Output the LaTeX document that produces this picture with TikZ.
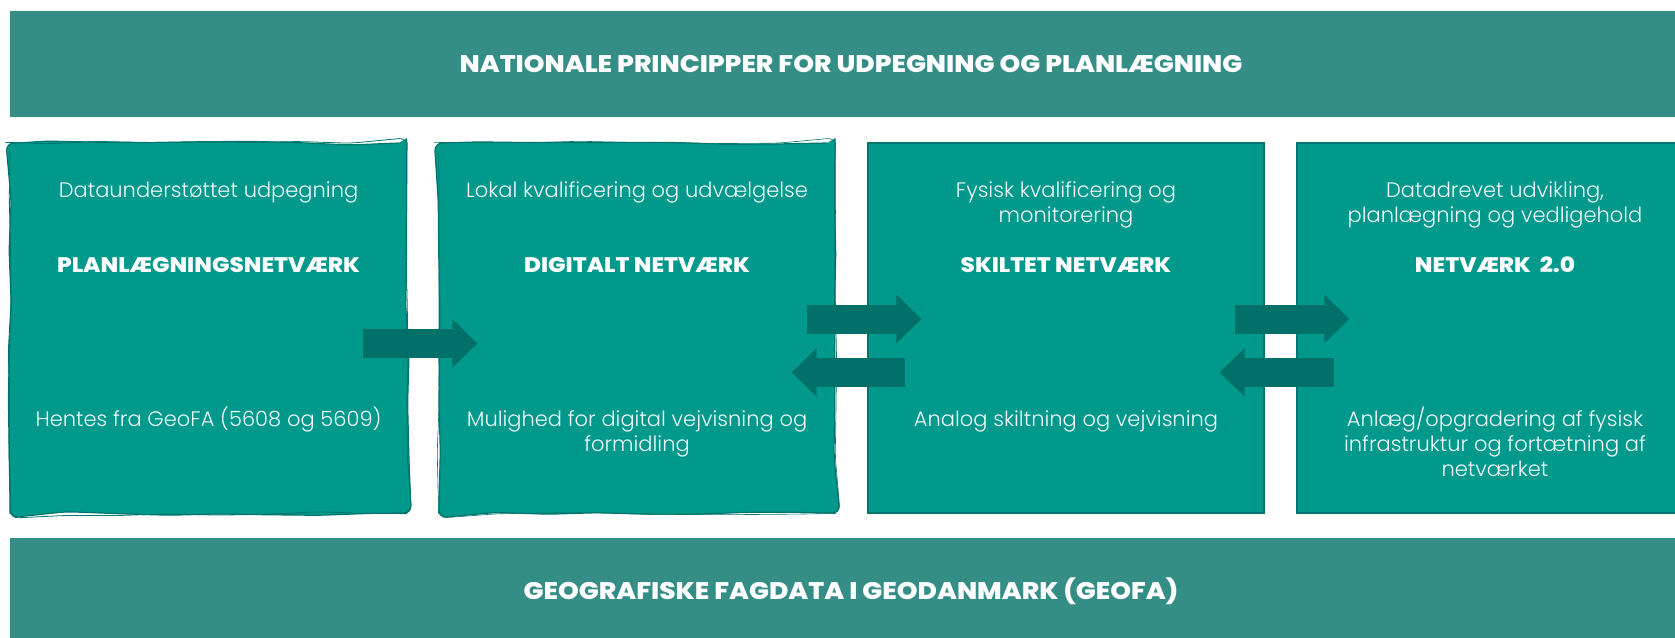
\documentclass[tikz,border=0pt]{standalone}
\usepackage{fontspec}
\setmainfont{Poppins}[UprightFont={* Light}, BoldFont={* ExtraBold}, BoldFeatures={FakeStretch=1.1}]
\usepackage{tikz}
\usetikzlibrary{arrows.meta,calc,decorations.pathmorphing}

\definecolor{bannergreen}{HTML}{358E86}
\definecolor{boxgreen}{HTML}{00998C}
\definecolor{boxedge}{HTML}{00756C}
\definecolor{arrowgreen}{HTML}{007068}

\begin{document}
\begin{tikzpicture}[x=1pt, y=-1pt,
    banner/.style={fill=bannergreen, text=white, font=\bfseries\fontsize{24}{25}\selectfont,
        minimum width=1682, minimum height=106, text height=17pt, text depth=0pt, inner sep=0pt},
    stepbox/.style={fill=boxgreen, draw=boxedge, line width=1.2pt,
        minimum width=396, minimum height=370, inner sep=0pt},
    sketchy/.style={decorate, decoration={random steps, segment length=50pt, amplitude=#1}, rounded corners=8pt},
    lighttext/.style={text=white!94!boxgreen, align=center, font=\fontsize{21}{25}\selectfont, anchor=base, inner sep=0pt},
    titletext/.style={text=white, font=\bfseries\fontsize{21}{25}\selectfont, anchor=base, inner sep=0pt},
    blockarrow/.style={draw=arrowgreen, line width=29pt, -{Triangle[length=25pt, width=47pt]}}
]

    %% Background
    \useasboundingbox (0,0) rectangle (1675,637);
    \clip (0,0) rectangle (1675,637);
    \pgfmathsetseed{4}

    % Banners
    \node[banner] (principper) at (851,64) {NATIONALE PRINCIPPER FOR UDPEGNING OG PLANLÆGNING};
    \node[banner] (geofa) at (851,591) {GEOGRAFISKE FAGDATA I GEODANMARK (GEOFA)};

    % Boxes
    \node[stepbox, sketchy=2.5pt] (plan) at (208.5,328) {};
    \draw[boxedge, line width=0.8pt, sketchy=2pt] (plan.north west) rectangle (plan.south east);
    \node[stepbox, sketchy=1.3pt] (digital) at (637,328) {};
    \draw[boxedge, line width=0.6pt, sketchy=1.2pt] (digital.north west) rectangle (digital.south east);
    \node[stepbox] (skiltet) at (1066,328) {};
    \node[stepbox] (netvaerk) at (1495,328) {};

    % Texts (base = last line)
    \node[lighttext] (plantop) at ($(plan.north)+(0,55)$) {Dataunderstøttet udpegning};
    \node[titletext] (planname) at ($(plan.north)+(0,130)$) {PLANLÆGNINGSNETVÆRK};
    \node[lighttext] (planbund) at ($(plan.north)+(0,284)$) {Hentes fra GeoFA (5608 og 5609)};

    \node[lighttext] (digitaltop) at ($(digital.north)+(0,55)$) {Lokal kvalificering og udvælgelse};
    \node[titletext] (digitalname) at ($(digital.north)+(0,130)$) {DIGITALT NETVÆRK};
    \node[lighttext] (digitalbund) at ($(digital.north)+(0,309)$) {Mulighed for digital vejvisning og\\formidling};

    \node[lighttext] (skiltettop) at ($(skiltet.north)+(0,80)$) {Fysisk kvalificering og\\monitorering};
    \node[titletext] (skiltetname) at ($(skiltet.north)+(0,130)$) {SKILTET NETVÆRK};
    \node[lighttext] (skiltetbund) at ($(skiltet.north)+(0,284)$) {Analog skiltning og vejvisning};

    \node[lighttext] (netvaerktop) at ($(netvaerk.north)+(0,80)$) {Datadrevet udvikling,\\planlægning og vedligehold};
    \node[titletext] (netvaerkname) at ($(netvaerk.north)+(0,130)$) {NETVÆRK~~2.0};
    \node[lighttext] (netvaerkbund) at ($(netvaerk.north)+(0,334)$) {Anlæg/opgradering af fysisk\\infrastruktur og fortætning af\\netværket};

    % Arrows
    \draw[blockarrow] ($(plan.east)+(-44,15.5)$) -- ($(digital.west)+(39,15.5)$);
    \draw[blockarrow] ($(digital.east)+(-29,-9)$) -- ($(skiltet.west)+(54,-9)$);
    \draw[blockarrow] ($(skiltet.west)+(38,44.5)$) -- ($(digital.east)+(-44,44.5)$);
    \draw[blockarrow] ($(skiltet.east)+(-30,-9)$) -- ($(netvaerk.west)+(53,-9)$);
    \draw[blockarrow] ($(netvaerk.west)+(38,44.5)$) -- ($(skiltet.east)+(-45,44.5)$);

\end{tikzpicture}
\end{document}
